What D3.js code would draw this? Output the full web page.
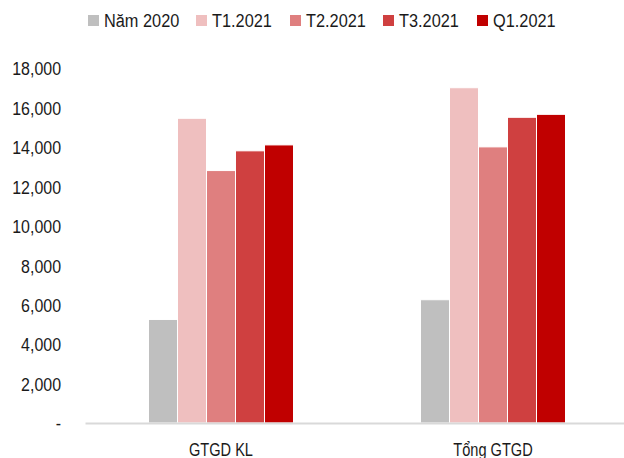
<!DOCTYPE html>
<html><head><meta charset="utf-8">
<script src="https://cdn.jsdelivr.net/npm/d3@7"></script>
<style>
body{margin:0;background:#fff;}
text{font-family:"Liberation Sans","Arial",sans-serif;fill:#1a1a1a;}
</style></head><body>
<svg id="c" width="624" height="458"></svg>
<script>
const categories = ["GTGD KL", "Tổng GTGD"];
const seriesNames = ["Năm 2020", "T1.2021", "T2.2021", "T3.2021", "Q1.2021"];
const nam2020 = [5250, 6250];
const t1_2021 = [15450, 17000];
const t2_2021 = [12800, 14000];
const t3_2021 = [13800, 15500];
const q1_2021 = [14100, 15650];
const colors = ["#bfbfbf", "#efbfbf", "#df7f7f", "#cf4040", "#c00000"];
const yTicks = [0, 2000, 4000, 6000, 8000, 10000, 12000, 14000, 16000, 18000];

(function(){
const series = [nam2020, t1_2021, t2_2021, t3_2021, q1_2021];
const svg = d3.select("#c");
const mLeft = 85, mRight = 629, mTop = 68, mBottom = 423;

const x = d3.scaleBand().domain(categories).range([mLeft, mRight]);
const y = d3.scaleLinear().domain([0, 18000]).range([mBottom, mTop]);
const xs = d3.scaleBand().domain(seriesNames).range([0, 145]);

const fmt = d3.format(",");
const yAxis = d3.axisLeft(y).tickValues(yTicks).tickSize(0).tickPadding(0)
  .tickFormat(d => d === 0 ? "-" : fmt(d));
const ga = svg.append("g").attr("transform", "translate(61,0)").call(yAxis);
ga.select(".domain").remove();
ga.selectAll("text").attr("font-size", 19).attr("font-family", null).attr("dy", "0.36em")
  .attr("fill", "#1a1a1a").attr("transform", "scale(0.84,1)");

categories.forEach((c, ci) => {
  const g = svg.append("g").attr("transform", `translate(${x(c) + x.bandwidth()/2 - 72.5},0)`);
  g.selectAll("rect").data(seriesNames.map((s, si) => ({s, v: series[si][ci], col: colors[si]})))
    .join("rect")
    .attr("x", d => xs(d.s))
    .attr("width", xs.bandwidth())
    .attr("y", d => y(d.v))
    .attr("height", d => y(0) - y(d.v))
    .attr("fill", d => d.col)
    .attr("stroke", "#fff").attr("stroke-width", 1);
});

const xAxis = d3.axisBottom(x).tickSize(0).tickPadding(0);
const gx = svg.append("g").attr("transform", `translate(0,${mBottom})`).call(xAxis);
gx.select(".domain").attr("stroke", "#d9d9d9").attr("stroke-width", 2);
gx.selectAll("text").attr("font-size", 18).attr("font-family", null).attr("y", 33).attr("dy", 0)
  .attr("fill", "#1a1a1a").attr("transform", "scale(0.81,1)");

const legX = [88, 196, 290, 383, 477];
const leg = svg.append("g");
seriesNames.forEach((s, i) => {
  leg.append("rect").attr("x", legX[i]).attr("y", 15).attr("width", 11).attr("height", 11).attr("fill", colors[i]);
  leg.append("g").attr("transform", `translate(${legX[i] + 16},27) scale(0.86,1)`)
    .append("text").attr("font-size", 19).text(s);
});
})();
</script></body></html>
